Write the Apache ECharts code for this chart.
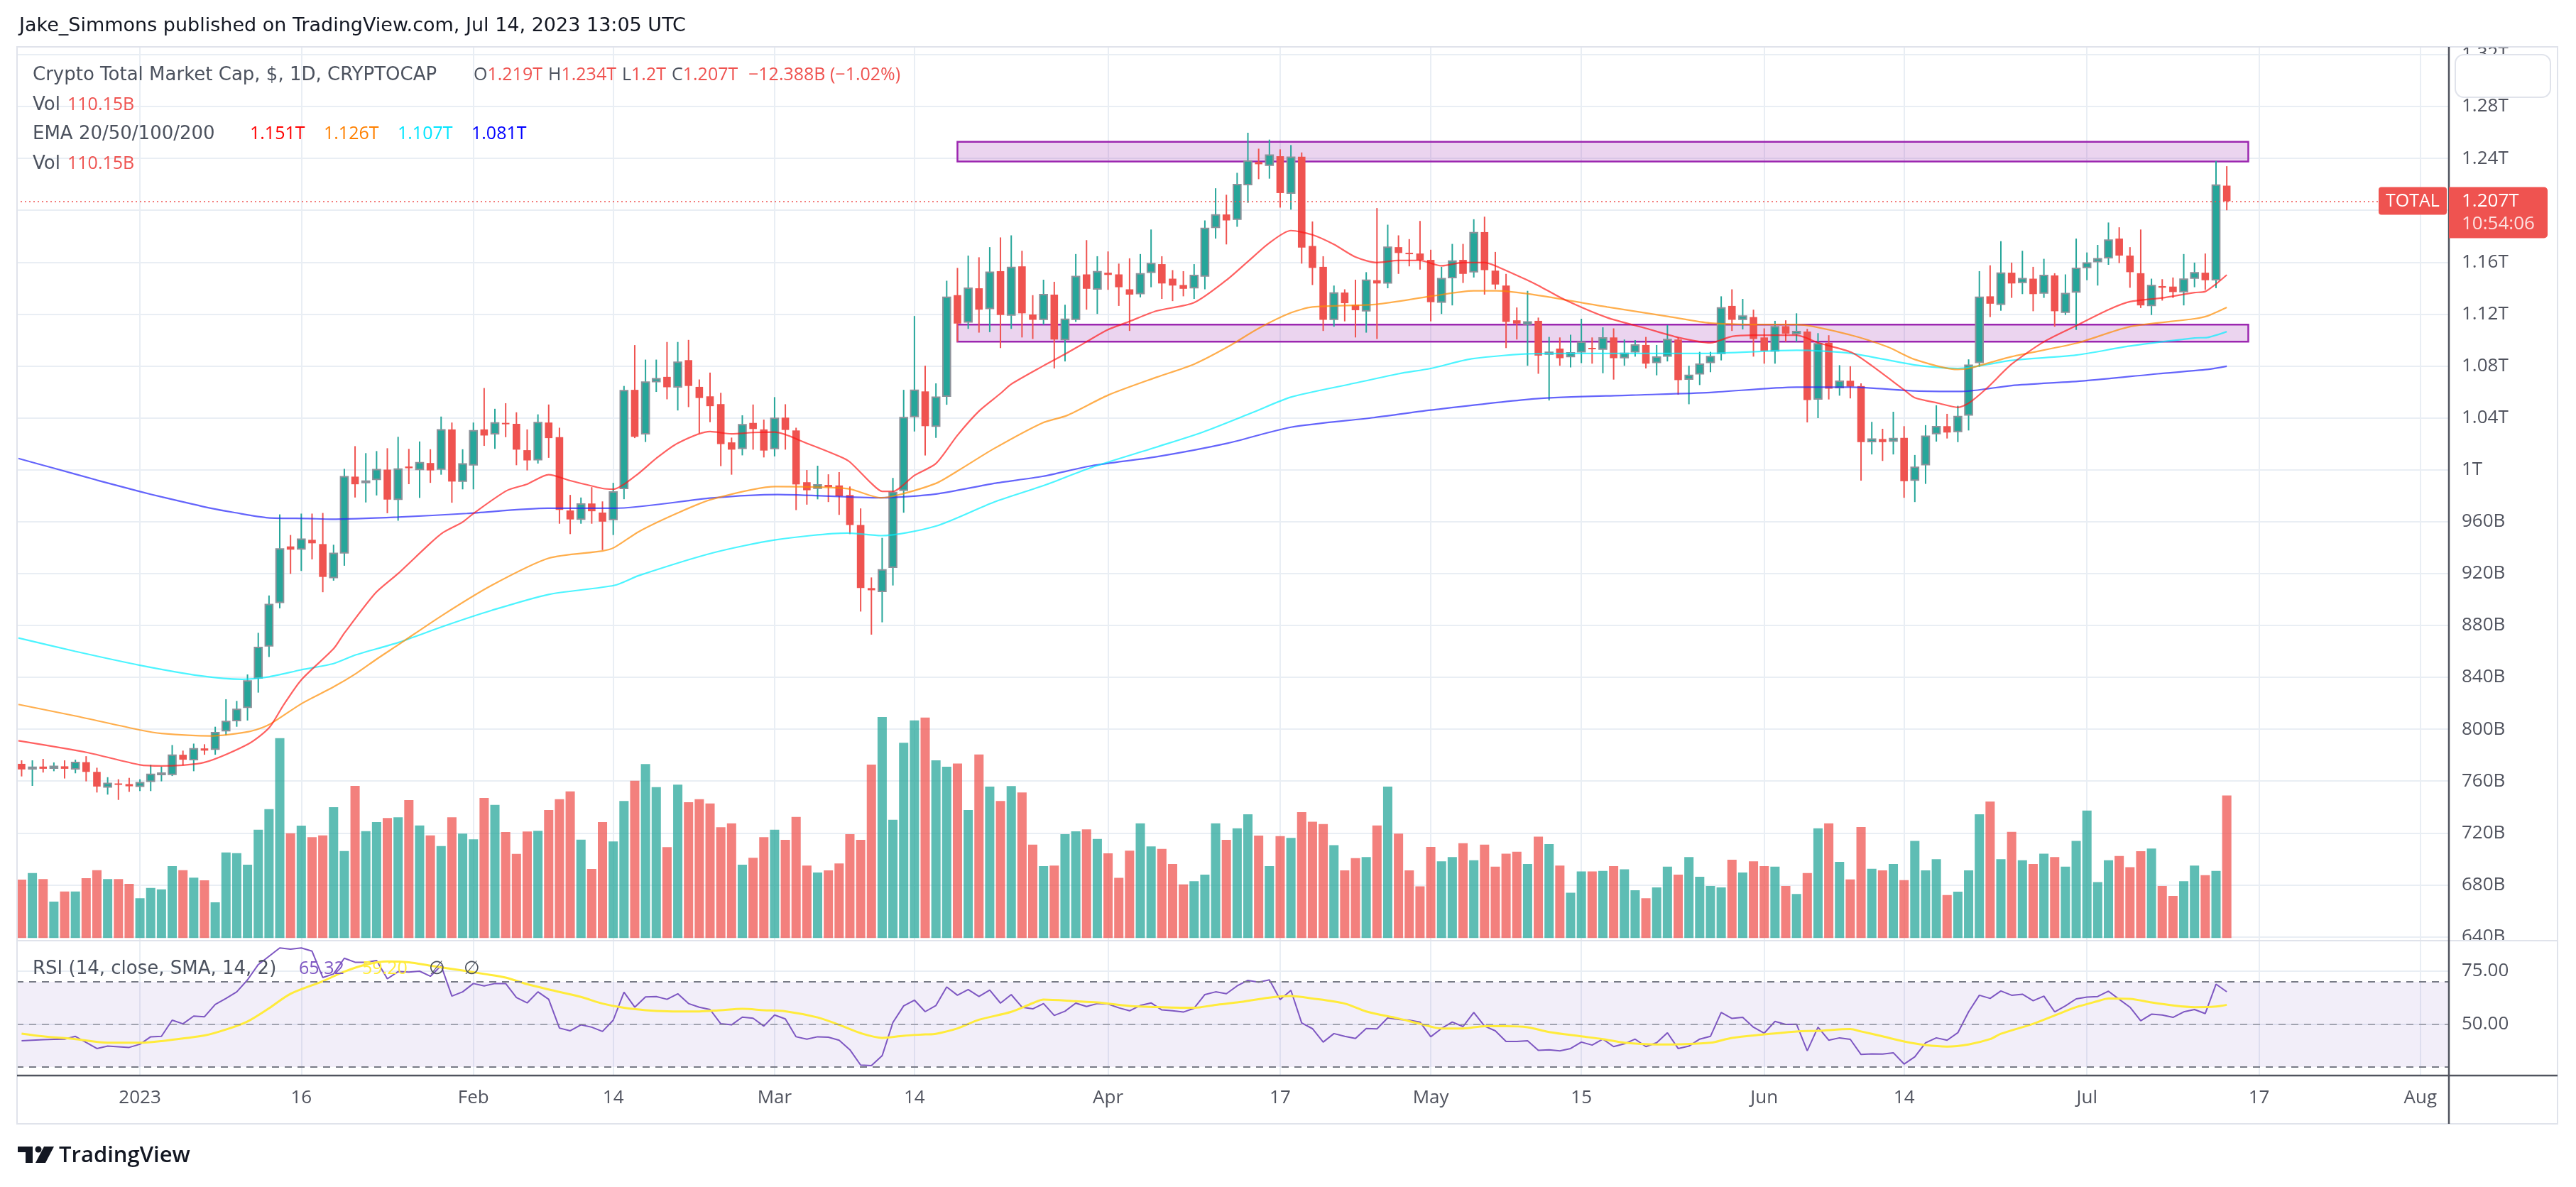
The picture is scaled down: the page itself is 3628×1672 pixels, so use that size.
<!DOCTYPE html>
<html><head><meta charset="utf-8">
<script src="https://cdn.jsdelivr.net/npm/echarts@6/dist/echarts.min.js"></script>
<style>html,body{margin:0;padding:0;background:#fff;}#c{width:3628px;height:1672px;}</style>
</head><body><div id="c"></div>
<script>
// ---------------- DATA ----------------
const START_DATE = '2022-12-21';
// [open, high, low, close] in billions USD, one per day from START_DATE
const ohlc = [
[773.3,776.0,763.6,769.0],[769.5,776.0,756.3,770.6],[771.2,777.1,766.6,769.5],[770.0,774.4,767.6,771.3],[771.4,776.0,762.0,769.5],
[769.5,776.5,766.0,774.4],[774.6,779.2,759.8,767.1],[767.1,770.3,751.2,755.8],[755.5,763.0,749.6,758.2],[758.2,761.4,745.5,757.1],
[757.7,762.5,751.7,756.0],
[756.0,761.4,752.3,758.7],[759.8,772.5,752.3,765.2],[765.2,771.1,759.8,766.0],[765.2,787.8,763.9,780.0],[780.3,783.5,772.2,776.5],
[776.5,788.9,767.6,784.9],[785.2,788.4,780.3,783.5],[784.6,801.9,780.3,797.3],[798.9,823.1,795.4,805.9],[806.7,821.8,801.9,815.3],
[816.9,842.2,806.7,837.1],[839.5,874.3,828.2,863.0],[864.3,903.1,855.7,896.1],[897.8,965.6,893.2,939.0],[940.9,949.7,919.8,938.4],
[939.0,966.2,922.0,946.5],[946.0,966.2,930.9,943.3],[942.7,966.7,905.6,917.4],[916.9,942.2,914.5,935.5],[936.0,1000.7,926.0,994.7],
[994.7,1018.2,978.6,988.8],[990.2,1012.8,974.8,991.2],[992.6,1014.4,980.2,1000.1],[1000.1,1016.6,966.5,977.0],[977.3,1025.4,960.7,1000.5],
[1002.5,1016.1,988.9,1001.2],[1000.2,1021.8,978.3,1005.5],[1005.2,1015.8,989.9,999.5],[1000.5,1041.0,996.2,1030.7],[1031.1,1036.4,974.6,990.9],
[991.2,1015.8,984.9,1004.5],[1003.8,1036.4,984.9,1030.1],[1031.1,1063.0,1018.4,1026.4],[1027.8,1047.0,1016.1,1036.1],[1036.1,1051.3,1025.1,1035.1],
[1035.4,1044.3,1003.5,1015.5],[1015.1,1031.1,999.5,1007.2],[1007.8,1042.7,1004.8,1036.4],[1036.4,1050.3,1009.2,1024.4],[1025.1,1032.4,958.4,969.0],
[968.6,980.6,950.4,961.7],[962.0,978.6,958.4,973.6],[974.0,986.6,958.4,968.0],[967.0,975.6,938.1,960.0],[961.7,989.9,949.7,982.9],
[985.6,1064.6,977.3,1061.0],[1061.6,1096.1,1024.4,1025.4],[1027.8,1084.9,1021.4,1067.6],[1067.9,1084.9,1060.0,1070.2],[1071.6,1098.5,1054.3,1063.6],
[1063.9,1098.5,1045.7,1082.9],[1084.5,1100.1,1048.3,1064.6],[1063.9,1069.6,1028.1,1055.3],[1056.6,1074.9,1036.7,1049.0],[1050.6,1059.3,1002.8,1019.8],
[1021.1,1024.8,996.2,1015.5],[1016.5,1042.0,1011.1,1034.7],[1036.1,1050.3,1015.5,1031.4],[1031.1,1038.7,1009.5,1014.8],[1016.4,1056.0,1010.3,1039.7],
[1040.2,1050.5,1015.5,1030.7],[1030.3,1032.4,968.9,988.7],[990.4,999.8,973.1,984.2],[985.8,1003.1,977.2,988.3],[988.3,996.5,975.1,986.7],
[987.9,998.2,965.2,979.6],[980.5,987.1,950.4,957.4],[957.4,970.2,890.7,908.8],[908.8,917.0,872.9,907.1],[906.3,947.5,882.4,922.8],
[924.9,993.7,910.8,982.5],[984.2,1061.6,966.9,1040.2],[1041.0,1118.5,1029.5,1061.2],[1060.4,1080.2,1011.0,1033.6],[1033.6,1066.6,1024.6,1055.9],
[1056.7,1145.7,1050.1,1132.9],[1134.6,1155.6,1098.7,1112.7],[1113.9,1165.1,1108.6,1139.9],[1139.9,1163.8,1105.7,1123.4],[1124.3,1171.6,1106.1,1152.3],
[1153.1,1179.1,1093.8,1119.3],[1119.3,1180.7,1108.6,1156.0],[1156.8,1168.8,1102.0,1120.6],[1119.7,1134.6,1100.8,1115.6],[1116.0,1146.5,1111.9,1135.0],
[1135.0,1144.9,1078.1,1100.4],[1100.4,1127.2,1083.5,1116.0],[1116.0,1166.3,1114.0,1149.0],[1150.6,1177.0,1123.4,1139.5],[1139.4,1164.6,1120.1,1152.7],
[1151.9,1168.3,1138.7,1150.2],[1150.6,1158.9,1126.3,1140.7],[1139.1,1163.0,1107.0,1135.0],[1135.8,1166.3,1132.9,1151.0],[1152.3,1185.2,1140.7,1158.9],
[1158.5,1164.6,1131.7,1143.6],[1147.3,1153.9,1130.0,1142.0],[1142.4,1153.1,1133.7,1139.5],[1140.3,1158.5,1131.7,1149.8],[1149.4,1192.2,1139.1,1186.1],
[1186.9,1217.0,1178.2,1196.4],[1196.8,1212.0,1173.7,1192.2],[1193.1,1228.9,1187.3,1219.9],[1219.9,1259.8,1205.8,1238.0],[1237.2,1247.5,1224.0,1235.5],
[1234.7,1254.5,1224.4,1242.5],[1241.7,1247.0,1202.1,1213.3],[1213.3,1250.3,1200.5,1240.9],[1241.3,1244.6,1158.9,1171.2],[1172.5,1191.4,1142.4,1155.6],
[1156.4,1164.6,1107.0,1115.6],[1116.0,1142.0,1110.3,1136.2],[1136.6,1139.1,1114.4,1128.4],[1127.1,1146.5,1102.0,1123.0],[1122.6,1152.3,1105.7,1146.1],
[1146.1,1201.7,1100.8,1143.6],[1144.0,1188.9,1139.9,1171.6],[1171.6,1180.7,1151.0,1167.1],[1167.1,1177.8,1156.8,1166.3],[1166.7,1191.8,1154.3,1161.8],
[1161.8,1169.6,1114.4,1129.2],[1129.2,1156.4,1120.1,1147.3],[1148.2,1174.1,1126.7,1160.9],[1161.8,1174.1,1144.0,1151.0],[1152.7,1193.1,1148.2,1182.8],
[1183.2,1195.1,1135.0,1153.9],[1153.5,1167.9,1139.1,1142.8],[1142.0,1151.0,1093.8,1114.0],[1115.2,1125.1,1100.4,1112.7],[1112.3,1137.9,1080.2,1114.0],
[1114.8,1117.3,1074.0,1088.0],[1089.2,1102.4,1053.4,1090.5],[1093.4,1102.0,1080.2,1086.0],[1087.2,1104.1,1078.9,1090.1],[1090.9,1116.4,1082.2,1098.3],
[1093.8,1102.0,1081.8,1093.0],[1093.0,1109.8,1074.4,1101.6],[1102.0,1109.0,1069.5,1086.0],[1086.4,1100.4,1080.2,1089.7],[1090.9,1100.0,1087.2,1096.2],
[1096.2,1102.4,1078.1,1081.8],[1082.7,1096.2,1072.8,1086.8],[1087.6,1111.5,1083.5,1100.4],[1100.4,1102.0,1057.9,1069.1],[1069.9,1080.2,1050.5,1072.8],
[1074.0,1090.9,1065.3,1081.4],[1082.7,1090.9,1075.2,1087.2],[1089.7,1133.7,1084.3,1124.7],[1126.3,1139.1,1107.0,1115.6],[1116.0,1131.7,1108.2,1118.5],
[1117.7,1123.4,1087.2,1100.8],[1102.0,1109.0,1081.8,1091.7],[1091.7,1114.8,1081.8,1110.3],[1110.7,1115.2,1098.7,1104.9],[1104.9,1120.6,1098.7,1106.5],
[1106.5,1108.6,1036.5,1053.8],[1054.6,1105.3,1039.8,1097.1],[1097.9,1103.7,1054.2,1062.5],[1063.3,1080.6,1057.1,1068.2],[1068.6,1079.8,1055.0,1064.1],
[1064.5,1066.6,991.6,1021.3],[1021.7,1036.9,1011.8,1023.7],[1023.7,1031.6,1006.8,1021.3],[1022.1,1044.7,1011.8,1024.1],[1024.6,1033.6,978.4,991.2],
[992.0,1011.4,975.1,1001.9],[1004.0,1034.4,989.1,1025.8],[1027.9,1049.7,1021.7,1033.2],[1033.6,1043.1,1024.1,1028.7],[1029.5,1049.3,1021.3,1041.0],
[1042.3,1085.1,1030.3,1080.6],[1082.7,1153.1,1079.4,1132.9],[1133.7,1157.6,1117.7,1128.0],[1127.6,1176.2,1122.6,1151.5],[1151.9,1159.7,1132.5,1143.6],
[1144.5,1168.8,1135.4,1147.3],[1147.3,1156.4,1122.2,1135.4],[1136.2,1162.6,1132.5,1149.8],[1149.8,1151.5,1110.3,1122.2],[1121.4,1150.6,1119.3,1135.8],
[1137.0,1178.2,1107.8,1155.2],[1156.0,1167.5,1146.1,1159.3],[1160.5,1173.3,1142.0,1162.6],[1163.4,1190.6,1158.0,1177.0],[1178.2,1186.9,1159.3,1165.1],
[1165.1,1171.6,1140.3,1152.3],[1151.5,1185.2,1124.7,1126.7],[1126.7,1147.3,1119.3,1142.0],[1141.6,1146.9,1130.4,1140.3],[1141.2,1148.2,1132.5,1137.0],
[1137.4,1166.3,1126.7,1146.9],[1147.7,1159.7,1140.7,1151.9],[1151.9,1166.7,1138.7,1146.1],[1146.5,1238.0,1140.0,1219.4],[1219.0,1234.0,1200.0,1207.0]
];
// volume in billions USD
const volume = [
45.2,50.3,45.7,28.3,36.1,36.1,46.3,52.5,45.7,45.7,42.0,
30.9,38.8,37.7,55.7,52.5,46.8,44.7,27.7,66.2,65.7,
56.8,83.7,99.6,154.5,81.0,86.9,78.0,79.4,101.2,67.3,
117.6,82.6,89.6,92.8,93.3,106.6,87.0,79.4,71.1,93.3,
80.7,76.4,108.3,103.0,82.0,65.1,82.4,83.0,99.0,107.3,
113.3,76.1,53.5,89.7,74.7,105.9,121.6,134.5,116.6,70.4,
118.6,105.0,107.3,104.0,85.7,88.7,56.8,62.1,78.0,83.7,
75.9,93.6,56.1,50.7,52.4,57.7,80.4,75.9,134.0,170.7,
91.5,150.9,168.2,170.3,137.3,132.4,134.8,99.0,141.9,117.1,
106.0,117.5,112.6,72.2,55.7,56.1,80.4,82.5,84.1,76.7,
65.6,46.6,67.6,88.7,70.9,68.9,57.3,41.6,44.1,49.1,
88.7,75.9,84.9,95.7,79.2,55.7,78.8,77.5,97.3,89.9,
88.2,71.8,52.4,61.9,62.7,87.0,117.1,80.8,52.4,40.0,
70.5,59.4,62.7,73.4,60.2,72.2,55.3,65.2,66.8,57.3,
78.4,72.6,56.1,35.1,51.5,51.5,52.0,55.7,53.2,37.1,
30.9,39.2,55.3,49.1,62.7,47.4,40.4,39.2,60.6,50.7,
59.4,55.7,55.3,40.4,34.2,50.3,84.9,88.7,59.0,45.4,
85.8,53.6,52.4,57.3,44.9,75.1,52.4,61.0,33.4,35.9,
52.4,95.7,105.6,61.0,82.1,60.2,57.3,65.2,62.7,55.3,
75.1,98.6,43.3,60.2,63.5,54.8,67.2,69.3,40.4,32.6,
44.1,56.1,48.7,52.0,110.15
];
// RSI(14), one per day
const rsi = [
42.3,42.6,42.8,43.0,43.1,44.4,41.5,38.7,39.8,39.5,
39.2,40.7,44.2,44.4,52.0,50.3,53.9,53.6,59.4,62.2,
65.3,70.9,78.1,82.0,85.9,85.3,85.9,84.4,72.0,73.7,
81.1,79.2,79.2,80.0,71.4,74.8,74.6,75.0,72.6,77.6,
63.3,65.3,69.2,68.1,69.2,69.2,62.6,60.1,65.3,61.8,
48.3,47.0,49.8,48.7,46.7,52.0,65.1,58.1,62.9,63.1,
61.8,64.4,59.8,58.1,57.0,50.3,49.8,53.4,52.9,49.2,
54.4,52.6,44.2,43.1,44.2,44.0,42.6,38.1,30.9,30.7,
35.3,50.9,58.7,61.4,56.0,58.9,67.6,63.7,66.4,63.1,
66.1,60.0,64.0,58.1,57.3,59.8,54.2,56.2,60.0,58.4,
59.8,59.6,57.8,56.4,58.9,60.1,56.8,56.4,55.8,57.6,
64.0,65.3,64.4,68.1,70.7,69.8,70.9,61.7,66.0,50.7,
48.0,41.7,45.7,44.4,43.4,48.1,47.9,53.1,52.3,52.0,
51.1,44.2,48.1,51.1,49.0,55.6,49.2,47.0,42.0,42.0,
42.3,37.8,38.1,37.6,38.7,41.7,40.3,43.1,39.6,40.9,
43.1,39.6,41.4,46.1,38.7,39.8,43.1,44.4,55.6,52.8,
53.3,48.7,45.9,51.4,50.0,50.1,37.6,48.7,42.6,43.7,
43.0,35.9,36.2,36.1,36.7,31.4,34.8,41.4,43.7,42.6,
46.1,55.9,63.7,62.2,65.7,63.7,64.2,61.1,63.3,55.9,
58.7,62.0,62.8,63.1,65.6,61.8,58.1,51.7,54.8,54.4,
53.3,55.9,57.0,55.1,68.9,65.32
];
// [day from 2023-01-01, value] readings
const rsiSma = [[-11,45.7],[-9,44.4],[-6,43.1],[-3,41.4],[0,41.4],[2,42.2],[6,44.8],[8,47.6],[10,51.4],[12,57.6],[14,64.4],[17,70.3],[19,74.8],[21,78.1],[23,79.6],[25,79.2],[27,77.6],[30,75.3],[32,73.7],[34,72],[36,68.9],[38,66.4],[41,62.9],[43,59.8],[45,57.8],[47,56.7],[49,56.2],[52,56.1],[54,56.7],[56,57.3],[58,56.7],[60,56.2],[63,53.3],[65,49.8],[67,45.9],[69,43.7],[71,44.7],[73,45.3],[74,45.6],[76,48.1],[78,52.2],[81,55.9],[83,60],[84,61.7],[87,60.9],[89,60.3],[92,58.7],[95,58.1],[98,57.8],[100,59.2],[102,60.3],[105,62.6],[107,63.3],[109,62.2],[112,59.8],[114,56.1],[117,52.8],[119,50.3],[121,48.1],[123,48.1],[125,49.2],[127,49.2],[129,48.7],[131,46.4],[134,44.4],[136,43.1],[138,41.4],[141,40.6],[143,40.7],[146,41.4],[148,43.7],[151,45.3],[154,46.7],[156,47],[159,47.8],[160,46.7],[162,44.4],[164,42],[166,40.3],[168,39.6],[170,40.6],[172,43.1],[173,45.6],[176,50.3],[178,54.2],[180,58.1],[182,60.9],[183,62.2],[185,62],[187,60.3],[189,58.9],[191,58.1],[193,58.4],[194,59.2]];
const ema20 = [[-11.3,791.1],[-4.9,782],[0,772.5],[2,771.7],[6,774.4],[10.1,788.7],[12,801],[13.3,818],[15,838],[18,862],[19,874],[21.9,905],[24,920],[27,943.4],[28.2,951.7],[30,959.7],[31,966.3],[34.1,983.9],[36,988.9],[38,996.2],[40,991.6],[43,985.6],[44,985],[46.1,995.5],[48,1008.8],[50,1020.5],[53,1029.4],[55,1027.7],[57,1028.7],[59,1029],[62,1020.4],[65.1,1010.1],[66,1006],[68,989.5],[69,983.4],[70,983.4],[72,995.7],[74,1004.8],[76,1026.6],[78,1045.2],[80,1058.8],[81,1066],[84,1080.2],[86,1089.2],[88,1098.7],[90,1108],[92,1114.4],[94.5,1122.4],[98,1128.8],[101,1146.1],[103,1160.5],[105,1174.9],[107,1184.4],[109,1181.1],[111,1173.7],[113,1164],[115,1159.7],[117,1161.3],[119,1161.3],[121,1157.2],[123,1159.7],[125,1159.7],[126,1157.2],[129,1146.1],[130,1142],[132.5,1130.9],[136.4,1117.3],[140,1109],[143,1102],[146,1097.9],[148,1102.8],[150,1103.7],[154,1103.7],[156,1097.9],[159.1,1090.5],[161,1080.2],[164,1061.6],[165,1055.5],[167.2,1051.3],[169,1048.1],[170,1051.3],[171.7,1062.9],[174,1081.4],[177,1098.7],[180,1111.1],[183,1123.4],[185,1129.6],[188,1132.5],[191,1136.6],[192,1137.4],[193,1143.2],[194,1150.2]];
const ema50 = [[-11.3,819.1],[-6,810.2],[0,799.4],[2,796.7],[6.5,794.8],[10.1,798.1],[12,803.5],[15,819.6],[18,832.6],[20.1,843],[22,854],[24,865],[28.2,888.3],[32.7,910.9],[38,931.8],[43,937.4],[44.1,940.1],[46.4,952.4],[50,966.7],[53.2,977.3],[59.1,987],[65.8,985.4],[68.9,978.4],[70.3,980.1],[74,989.5],[76,999],[79.4,1016.3],[83.9,1036.1],[86.2,1041.9],[90,1057.5],[94.5,1071.3],[98,1081.4],[101.1,1094.6],[104,1109],[107,1121],[109,1125.5],[115,1127.6],[120,1133.7],[124,1137.9],[126.1,1137.9],[129.7,1134.8],[136.4,1125.5],[142.1,1118.1],[146,1113.1],[152.3,1111.9],[154,1111.9],[159.1,1103.7],[162.5,1094.6],[165,1085],[169,1077.3],[170,1078.1],[174,1087.2],[180,1097.5],[185,1110.3],[191,1116.4],[192.2,1118.5],[194,1125.1]];
const ema100 = [[-11.3,870.3],[-6,860],[0,849.3],[5.6,841.2],[9.5,838.5],[12,840.4],[15,845.8],[18,850.6],[20.1,857.4],[24,866.8],[28.2,879.3],[32.7,891.6],[38,903.9],[44.1,910.9],[46.4,918.5],[53.2,935.8],[59.1,946],[65.8,951.2],[68.9,949.2],[74,956.6],[79.4,975.1],[83.9,987.5],[88.5,1001.9],[94.5,1017.5],[98.8,1029],[103.4,1044],[107,1056],[112.4,1065.8],[117,1074],[120,1078.1],[123.8,1085.5],[129.7,1089.5],[136.4,1089.7],[145.5,1089.7],[154,1092.1],[159.1,1089.7],[165,1080.8],[169,1078.1],[174,1084.3],[180,1088.4],[185,1095.4],[191,1101.6],[192.2,1102],[194,1106.5]];
const ema200 = [[-11.3,1008.7],[-8,1001.2],[-4,992],[0,983.2],[2,979.1],[6.5,970.5],[8.8,967],[11.9,963],[15.6,962.4],[17.8,961.9],[24,963.5],[30.4,966.3],[37.9,970.3],[44.1,970.3],[53.2,978.3],[59.3,980.9],[68.9,978.4],[74,981.3],[79.4,989.5],[83.9,994.9],[88.5,1003.1],[94.5,1010],[101.1,1020.4],[107,1032.8],[114.7,1040.2],[120,1046],[129.8,1054.8],[138.7,1057.5],[146,1059.6],[154,1063.7],[159.1,1063.7],[165,1060.8],[169.4,1060.4],[174,1064.9],[180.8,1068.6],[187.6,1074],[192.2,1077.3],[194,1079.8]];
const tickDates = ['2023-01-01','2023-01-16','2023-02-01','2023-02-14','2023-03-01','2023-03-14','2023-04-01','2023-04-17','2023-05-01','2023-05-15','2023-06-01','2023-06-14','2023-07-01','2023-07-17','2023-08-01'];
const tickLabels = ['2023','16','Feb','14','Mar','14','Apr','17','May','15','Jun','14','Jul','17','Aug'];
const priceTicks = [640,680,720,760,800,840,880,920,960,1000,1040,1080,1120,1160,1200,1240,1280,1320];
const rsiTicks = [50,75];
// [start date, end date, low, high]
const zones = [['2023-03-18','2023-07-16',1237.6,1252.8],['2023-03-18','2023-07-16',1098.7,1111.9]];
const lastPrice = 1207;
// ---------------- CHART ----------------
const FONT = "'Open Sans','Liberation Sans',sans-serif";
const LFONT = "'DejaVu Sans','Open Sans',sans-serif";
const UP = '#26a69a', DOWN = '#ef5350', UPB = '#8d9199';
const VUP = 'rgba(38,166,154,0.74)', VDOWN = 'rgba(239,83,80,0.74)';
const GRIDC = '#e9eef4', AXC = '#50535e', TXT = '#4c525e';
const DAY0 = Date.UTC(2023,0,1);
function dayOf(s){const p=s.split('-');return (Date.UTC(+p[0],+p[1]-1,+p[2])-DAY0)/86400000;}
const d0 = dayOf(START_DATE);
const candleData = ohlc.map((r,i)=>[d0+i,r[0],r[1],r[2],r[3]]);
const volData = volume.map((v,i)=>[d0+i,v,ohlc[i][3]>=ohlc[i][0]?1:0]);
const rsiData = rsi.map((v,i)=>[d0+i,v]);
const tickDays = tickDates.map(dayOf);
const X_MIN = -11.49, X_MAX = 214.65;

function fmtPrice(v){ if(v>=1000){return parseFloat((v/1000).toFixed(3))+'T';} return v+'B'; }

function renderCandle(params, api){
  const d=api.value(0),o=api.value(1),h=api.value(2),l=api.value(3),c=api.value(4);
  const up=c>=o;
  const pO=api.coord([d,o]),pC=api.coord([d,c]),pH=api.coord([d,h]),pL=api.coord([d,l]);
  const bw=api.size([1,0])[0]*0.70;
  const x=pO[0];
  let top=Math.min(pO[1],pC[1]),bot=Math.max(pO[1],pC[1]);
  if(bot-top<2){const m=(top+bot)/2;top=m-1;bot=m+1;}
  return {type:'group',children:[
    {type:'rect',shape:{x:x-1,y:pH[1],width:2,height:pL[1]-pH[1]},style:{fill:up?UP:DOWN}},
    {type:'rect',shape:{x:x-bw/2,y:top,width:bw,height:bot-top},style:up?{fill:UP,stroke:UPB,lineWidth:2}:{fill:DOWN}}
  ]};
}
function renderVol(params, api){
  const d=api.value(0),v=api.value(1),up=api.value(2);
  const p0=api.coord([d,0]),p1=api.coord([d,v]);
  const w=api.size([1,0])[0]*0.86;
  return {type:'rect',shape:{x:p0[0]-w/2,y:p1[1],width:w,height:p0[1]-p1[1]},style:{fill:up?VUP:VDOWN}};
}
function xAxisCfg(i, showLabel, showSplit){
  return {gridIndex:i,type:'value',min:X_MIN,max:X_MAX,
    axisLine:{show:false},
    axisTick:{show:false,customValues:tickDays},
    axisLabel:{show:showLabel,customValues:tickDays,formatter:v=>tickLabels[tickDays.indexOf(v)]||'',color:AXC,fontSize:26,fontFamily:FONT,margin:19},
    splitLine:{show:showSplit,lineStyle:{color:GRIDC,width:2}}};
}
const emaLine=(name,data,color)=>({name,type:'line',xAxisIndex:0,yAxisIndex:0,data,showSymbol:false,smooth:0.25,z:4,
  lineStyle:{color,width:2.2},silent:true,clip:true});

const option={
  backgroundColor:'#ffffff',animation:false,textStyle:{fontFamily:FONT},
  grid:[
    {left:23,right:179,top:66,height:1259,outerBoundsMode:'none'},
    {left:23,right:179,top:921.6,height:400,outerBoundsMode:'none'},
    {left:23,right:179,top:1325,height:190,outerBoundsMode:'none'}
  ],
  xAxis:[xAxisCfg(0,false,true),xAxisCfg(1,false,false),xAxisCfg(2,true,true)],
  yAxis:[
    {gridIndex:0,type:'value',position:'right',min:637,max:1326,
      axisLine:{show:false},axisTick:{show:false,customValues:priceTicks},
      axisLabel:{customValues:priceTicks,formatter:fmtPrice,color:AXC,fontSize:26,fontFamily:FONT,margin:18},
      splitLine:{show:true,lineStyle:{color:GRIDC,width:2}}},
    {gridIndex:1,type:'value',position:'right',min:0,max:219.2,show:false,splitLine:{show:false}},
    {gridIndex:2,type:'value',position:'right',min:26,max:89.33,
      axisLine:{show:false},axisTick:{show:false,customValues:rsiTicks},
      axisLabel:{customValues:rsiTicks,formatter:v=>v.toFixed(2),color:AXC,fontSize:26,fontFamily:FONT,margin:18},
      splitLine:{show:true,lineStyle:{color:GRIDC,width:2}}}
  ],
  series:[
    {name:'Vol',type:'custom',xAxisIndex:1,yAxisIndex:1,data:volData,renderItem:renderVol,encode:{x:0,y:1},z:1,silent:true,clip:true},
    {name:'zones',type:'line',xAxisIndex:0,yAxisIndex:0,z:2,silent:true,showSymbol:false,
      data:zones.map(z=>[dayOf(z[0]),z[2]]),lineStyle:{opacity:0},
      markArea:{silent:true,itemStyle:{color:'rgba(156,39,176,0.2)',borderColor:'#9c27b0',borderWidth:2.5},label:{show:false},
        data:zones.map(z=>[{xAxis:dayOf(z[0]),yAxis:z[2]},{xAxis:dayOf(z[1]),yAxis:z[3]}])},
      markLine:{silent:true,symbol:'none',label:{show:false},lineStyle:{color:'#ef5350',type:[2,4],width:1.5},data:[{yAxis:lastPrice}]}},
    {name:'TOTAL',type:'custom',xAxisIndex:0,yAxisIndex:0,data:candleData,renderItem:renderCandle,encode:{x:0,y:[1,2,3,4]},z:3,silent:true,clip:true},
    emaLine('EMA200',ema200,'rgba(40,40,250,0.72)'),
    emaLine('EMA100',ema100,'rgba(0,240,255,0.7)'),
    emaLine('EMA50',ema50,'rgba(255,140,0,0.7)'),
    emaLine('EMA20',ema20,'rgba(255,20,20,0.68)'),
    {name:'RSI',type:'line',xAxisIndex:2,yAxisIndex:2,data:rsiData,showSymbol:false,z:3,silent:true,
      lineStyle:{color:'#7e57c2',width:2},
      markArea:{silent:true,itemStyle:{color:'rgba(126,87,194,0.1)'},data:[[{yAxis:30},{yAxis:70}]]},
      markLine:{silent:true,symbol:'none',label:{show:false},data:[
        {yAxis:70,lineStyle:{color:'#787b86',type:[10,8],width:2}},
        {yAxis:50,lineStyle:{color:'rgba(120,123,134,0.6)',type:[10,8],width:2}},
        {yAxis:30,lineStyle:{color:'#787b86',type:[10,8],width:2}}]}},
    {name:'RSI SMA',type:'line',xAxisIndex:2,yAxisIndex:2,data:rsiSma,showSymbol:false,smooth:0.3,z:4,silent:true,
      lineStyle:{color:'#ffeb3b',width:3}}
  ]
};
const chart=echarts.init(document.getElementById('c'),null,{renderer:'canvas'});
chart.setOption(option);

const yLast=chart.convertToPixel({xAxisIndex:0,yAxisIndex:0},[X_MAX,lastPrice]);
const rightX=yLast[0];
function txt(x,y,text,rich,opts){
  return {type:'text',x,y,z:100,style:Object.assign({text,rich,font:'25px '+FONT,fill:TXT,verticalAlign:'middle',align:'left'},opts||{})};
}
const LBL={font:'26px '+LFONT,fill:TXT};
const G={g:{fill:TXT,font:'25px '+FONT},r:{fill:'#ef5350',font:'25px '+FONT}};
const graphics=[
  // frame and separators
  {type:'rect',z:50,shape:{x:24,y:66,width:3578,height:1517},style:{fill:null,stroke:'#e0e3eb',lineWidth:2}},
  {type:'rect',z:60,shape:{x:3451,y:1326,width:150,height:22},style:{fill:'#ffffff'}},
  {type:'line',z:61,shape:{x1:24,y1:1325,x2:3602,y2:1325},style:{stroke:'#e0e3eb',lineWidth:2}},
  {type:'line',z:61,shape:{x1:24,y1:1515,x2:3602,y2:1515},style:{stroke:AXC,lineWidth:2.5}},
  {type:'line',z:61,shape:{x1:3449,y1:66,x2:3449,y2:1583},style:{stroke:AXC,lineWidth:2.5}},
  {type:'rect',z:62,shape:{x:3458,y:77,width:134,height:60,r:12},style:{fill:'#ffffff',stroke:'#e0e3eb',lineWidth:2}},
  // header
  txt(27,37,'Jake_Simmons published on TradingView.com, Jul 14, 2023 13:05 UTC',null,{font:'27px '+LFONT,fill:'#131722'}),
  // legends
  txt(46,106,'Crypto Total Market Cap, $, 1D, CRYPTOCAP',null,LBL),
  txt(667,106,'{g|O}{r|1.219T}',G),
  txt(772,106,'{g|H}{r|1.234T}',G),
  txt(876,106,'{g|L}{r|1.2T}',G),
  txt(946,106,'{g|C}{r|1.207T}',G),
  txt(1054,106,'{r|\u221212.388B (\u22121.02%)}',G),
  txt(46,148,'Vol',null,LBL), txt(95,148,'{r|110.15B}',G),
  txt(46,189,'EMA 20/50/100/200',null,LBL),
  txt(352,189,'1.151T',null,{fill:'#ff0000'}),
  txt(456,189,'1.126T',null,{fill:'#ff8000'}),
  txt(560,189,'1.107T',null,{fill:'#00e5ff'}),
  txt(664,189,'1.081T',null,{fill:'#0000ff'}),
  txt(46,231,'Vol',null,LBL), txt(95,231,'{r|110.15B}',G),
  txt(46,1365,'RSI (14, close, SMA, 14, 2)',null,LBL),
  txt(421,1365,'65.32',null,{fill:'#7e57c2'}),
  txt(510,1365,'59.20',null,{fill:'#ffeb3b'}),
  txt(604,1365,'\u2205',null,LBL),
  txt(653,1365,'\u2205',null,LBL),
  // last price labels
  {type:'rect',z:70,shape:{x:rightX-99,y:yLast[1]-20,width:96,height:39,r:4},style:{fill:'#ef5350'}},
  txt(rightX-51,yLast[1],'TOTAL',null,{fill:'#ffffff',align:'center',font:'25px '+FONT}),
  {type:'rect',z:70,shape:{x:rightX,y:yLast[1]-20,width:139,height:72,r:[0,5,5,0]},style:{fill:'#ef5350'}},
  txt(rightX+18,yLast[1],fmtPrice(lastPrice),null,{fill:'#ffffff',font:'26px '+FONT}),
  txt(rightX+18,yLast[1]+32,'10:54:06',null,{fill:'rgba(255,255,255,0.82)',font:'26px '+FONT}),
  // logo
  {type:'rect',z:70,shape:{x:25,y:1615,width:21,height:8},style:{fill:'#131722'}},
  {type:'rect',z:70,shape:{x:36,y:1615,width:10,height:23},style:{fill:'#131722'}},
  {type:'circle',z:70,shape:{cx:54,cy:1619,r:4.5},style:{fill:'#131722'}},
  {type:'polygon',z:70,shape:{points:[[62,1615],[76,1615],[64,1638],[50,1638]]},style:{fill:'#131722'}},
  txt(83,1628,'TradingView',null,{fill:'#131722',font:'600 31px '+FONT})
];
chart.setOption({graphic:{elements:graphics}});
</script></body></html>
